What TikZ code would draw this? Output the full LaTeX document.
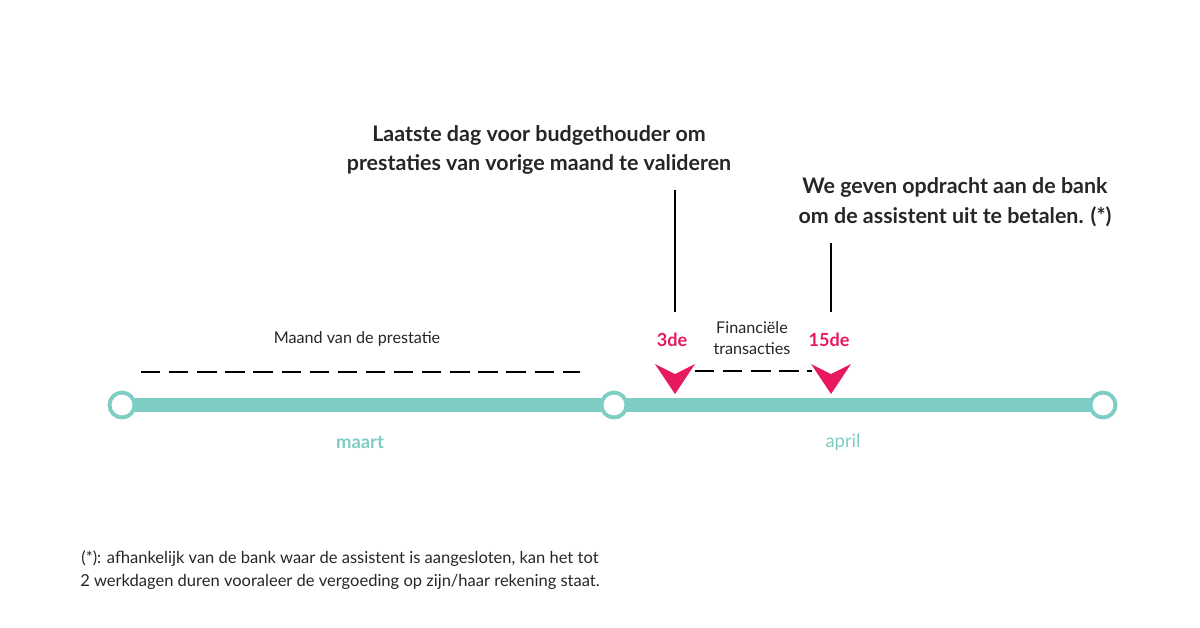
\documentclass[tikz,border=0pt]{standalone}
\usepackage{fontspec}
\setmainfont{Lato}
\usetikzlibrary{positioning}
\definecolor{teal}{HTML}{7ECDC4}
\definecolor{pink}{HTML}{E8195F}
\tikzset{
  dot/.style = {circle, draw = teal, line width = 2.2pt, fill = white, minimum size = 0.5cm, inner sep = 0pt},
  tick/.style = {line width = 1.4pt, black},
  dash line/.style = {line width = 1.3pt, dash pattern = on 11pt off 5pt},
  marker/.style = {fill = pink},
  heading/.style = {font = \bfseries\fontsize{12.2}{17}\selectfont, align = center, text = black!85},
  small/.style = {font = \fontsize{9.2}{12}\selectfont, align = center, text = black!85}
}
\begin{document}
\begin{tikzpicture}[x=0.02cm, y=-0.02cm]
\useasboundingbox (0,0) rectangle (1200,627);
% timeline
\draw[teal, line width = 8pt] (122,405) -- (1103,405);
\node[dot] (start) at (122,405) {};
\node[dot] (mid) at (614,405) {};
\node[dot] (end) at (1103,405) {};
\node[font = \bfseries\fontsize{10.5}{12}\selectfont, text = teal] (maart) at (360,442) {maart};
\node[font = \fontsize{10.5}{12}\selectfont, text = teal] (april) at (843,442) {april};
% month of service
\node[small] (maand) at (357,339) {Maand van de prestatie};
\draw[dash line] (141,372) -- (580,372);
% markers
\foreach \x/\name in {675/m3, 831/m15}{
  \fill[marker] (\x-20,364) -- (\x,374) -- (\x+20,364) -- (\x,394) -- cycle;
  \coordinate (\name) at (\x,394);
}
\node[font = \bfseries\fontsize{10.3}{12}\selectfont, text = pink] (d3) at (672,340) {3de};
\node[font = \bfseries\fontsize{10.3}{12}\selectfont, text = pink] (d15) at (829,340) {15de};
\node[small] (fin) at (752,338) {Financiële\\transacties};
\draw[dash line] (695,371) -- (812,371);
% ticks and headings
\node[heading] (valid) at (539,150) {Laatste dag voor budgethouder om\\prestaties van vorige maand te valideren};
\node[heading] (bank) at (955,202) {We geven opdracht aan de bank\\om de assistent uit te betalen. (*)};
\draw[tick] (675,190) -- (675,312);
\draw[tick] (831,243) -- (831,312);
% footnote
\node[small, font = \fontsize{9.4}{13.5}\selectfont] (note) at (340,570) {(*): afhankelijk van de bank waar de assistent is aangesloten, kan het tot\\2 werkdagen duren vooraleer de vergoeding op zijn/haar rekening staat.};
\end{tikzpicture}
\end{document}
